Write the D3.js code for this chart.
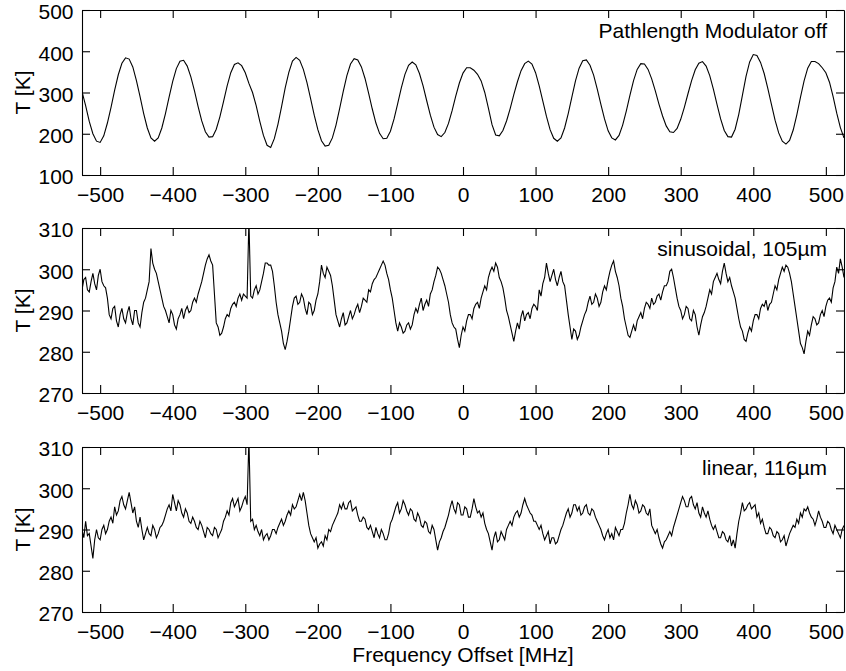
<!DOCTYPE html>
<html>
<head>
<meta charset="utf-8">
<script src="https://cdn.jsdelivr.net/npm/d3@7"></script>
<style>
  body { margin: 0; background: #fff; }
  text { font-family: "Liberation Sans", Arial, Helvetica, sans-serif; }
</style>
</head>
<body>
<div id="chart"></div>
<script>
// all spectra start at -525 MHz
const freqStart = -525;
const xTicks = [-500, -400, -300, -200, -100, 0, 100, 200, 300, 400, 500];

// modulator off, sampled every 5 MHz
const modOff = [
  302, 268, 230, 200, 182, 179, 195, 226, 264, 306,
  343, 371, 384, 381, 362, 329, 290, 249, 214, 190,
  182, 190, 214, 249, 289, 327, 358, 376, 378, 364,
  338, 304, 266, 231, 205, 192, 193, 211, 241, 278,
  316, 348, 368, 372, 365, 348, 322, 300, 268, 230,
  196, 172, 167, 188, 223, 266, 311, 349, 376, 385,
  378, 356, 324, 285, 245, 210, 183, 170, 172, 190,
  221, 261, 303, 341, 369, 382, 379, 362, 334, 298,
  260, 226, 201, 188, 189, 206, 236, 273, 311, 344,
  366, 374, 367, 346, 316, 280, 245, 216, 198, 193,
  203, 225, 256, 291, 323, 347, 360, 360, 354, 344,
  328, 300, 262, 222, 197, 195, 208, 231, 261, 295,
  326, 353, 370, 376, 369, 348, 316, 279, 242, 210,
  189, 182, 190, 214, 249, 289, 328, 359, 377, 379,
  366, 342, 308, 271, 236, 207, 190, 185, 196, 221,
  255, 293, 329, 356, 370, 369, 356, 333, 304, 272,
  243, 219, 205, 203, 213, 235, 264, 297, 329, 355,
  371, 375, 364, 341, 308, 271, 236, 208, 193, 192,
  211, 247, 293, 339, 374, 392, 390, 373, 346, 310,
  271, 233, 202, 182, 175, 184, 209, 246, 288, 328,
  359, 375, 375, 370, 360, 348, 325, 290, 250, 215,
  190
];

// sinusoidal modulator, sampled every 2.5 MHz
const sinusoidal = [
  295, 297.5, 298, 295, 294.5, 297, 299, 296.5, 295, 298.5,
  300, 297, 296, 295.5, 293, 289, 288, 290.5, 291, 287.5,
  286, 289, 290.5, 288, 287, 289.5, 291, 288, 286.5, 290,
  290, 287, 286, 289.5, 292, 293, 295, 297, 305, 301.5,
  300, 299, 297, 295, 293, 291, 290, 288.5, 287, 290,
  289, 286.5, 285.5, 288, 289, 290.5, 288, 290, 291, 289.5,
  290, 292, 293, 292, 294, 295.5, 297, 299, 301, 302.5,
  303.5, 302, 301, 294, 287, 286, 284, 284.5, 286, 288,
  289, 288.5, 290.5, 291.5, 292, 291, 293, 294, 292.5, 294,
  293.5, 293, 312, 293.5, 293, 295, 296, 294, 295, 297,
  299, 301.5, 301.5, 301, 301, 299.5, 296, 292, 289, 287,
  285, 282, 280.5, 282.5, 285, 288, 291, 293, 293.5, 291.5,
  292, 294, 293, 290.5, 289, 292, 291.5, 289, 290, 292.5,
  294, 297, 301, 299, 298, 300.5, 299.5, 298.5, 296, 292.5,
  289, 287.5, 286, 288, 289.5, 286.5, 287, 288.5, 290, 288,
  289, 290.5, 291.5, 289.5, 291, 293, 292.5, 292, 295, 294.5,
  296.5, 297.5, 298, 299, 300, 301, 302, 301, 299, 297.5,
  295, 293, 290, 287, 285, 287, 286, 284.5, 285, 286.5,
  287, 285.5, 286.5, 289, 290.5, 289.5, 291.5, 293, 290, 291.5,
  292.5, 291, 294, 295, 297, 298.5, 300.5, 300, 299, 297.5,
  296, 294, 292, 289, 287, 286, 285.5, 283, 281, 284,
  286, 285, 287.5, 289, 289, 288, 290.5, 291.5, 292, 290.5,
  293, 294.5, 296, 295, 298, 299.5, 300.5, 299.5, 301.5, 300.5,
  298, 297, 295.5, 293, 290, 288.5, 286.5, 284.5, 282.5, 285,
  287, 285.5, 288.5, 290, 287.5, 289, 289.5, 288, 290.5, 291.5,
  291, 290, 295, 293.5, 296.5, 298, 301.5, 299, 297, 298.5,
  300, 297.5, 296, 298, 299.5, 297, 296, 292.5, 289, 286,
  283, 285.5, 285, 283, 284, 286, 287.5, 289, 290, 292,
  293.5, 291.5, 292, 294, 293, 291, 292, 294.5, 296, 295,
  297.5, 299.5, 301, 302, 299.5, 298, 296, 293, 291, 288,
  286, 284, 283.5, 285, 286.5, 285, 287.5, 288.5, 289.5, 288,
  290.5, 292, 291.5, 290.5, 293, 291.5, 292, 293.5, 294, 292.5,
  294.5, 296, 296, 297, 299.5, 300, 298, 295.5, 293, 291,
  290, 288, 289, 291, 290.5, 288, 287.5, 290, 289, 286,
  284, 286.5, 288.5, 289.5, 291, 293, 295, 294, 297, 298,
  299, 297.5, 296.5, 299.5, 301.5, 299, 297, 298, 296, 294.5,
  293, 290.5, 288, 286, 285, 283, 282.5, 284.5, 286, 285,
  287.5, 289, 289, 288, 290.5, 291.5, 291, 292.5, 290, 291.5,
  292, 294, 296, 295, 297.5, 299, 300.5, 299.5, 301, 300.5,
  299, 297, 294, 291, 288, 285, 282, 281, 279.5, 282.5,
  285, 284, 286.5, 288.5, 288, 286.5, 287, 289, 290, 288.5,
  291, 292.5, 293, 292, 295.5, 297, 300.5, 299, 302.5, 300.5,
  298
];

// linear modulator, sampled every 2.5 MHz
const linear = [
  290, 288, 292, 288.5, 289, 286, 283, 287.5, 290, 288,
  287.5, 290, 291, 289, 290, 292, 293, 291.5, 295.5, 293.5,
  294.5, 297, 298, 296, 295, 297, 299, 296.5, 294, 295.5,
  292, 290.5, 293, 290, 287.5, 289, 290.5, 289, 288.5, 291,
  290, 288, 289, 290.5, 291, 292, 293.5, 295, 296, 294.5,
  298.5, 296.5, 294.5, 297, 296, 294, 293, 295, 294, 292,
  291.5, 293, 292, 290.5, 290, 292, 291, 289.5, 288, 290.5,
  290, 289, 288.5, 290.5, 290, 288, 289, 290, 292, 293,
  294.5, 293.5, 296.5, 297.5, 295.5, 296.5, 297.5, 294.5, 295.5, 297,
  298, 296, 312, 292, 292.5, 290, 291, 289.5, 288.5, 290,
  287.5, 288.5, 289, 287.5, 288.5, 290, 290, 289, 290.5, 291.5,
  292.5, 291, 292, 293.5, 294.5, 293.5, 296, 295, 295.5, 297,
  298.5, 297, 299, 297, 294, 291, 289, 288, 287, 288,
  285.5, 286.5, 287, 286, 288.5, 287.5, 290, 289.5, 291, 292,
  293, 294, 296, 295, 296.5, 295, 295, 296.5, 297, 294.5,
  295, 295.5, 293.5, 292, 292, 293, 292.5, 290.5, 290, 291,
  289.5, 288, 290.5, 289, 288, 290, 289, 287.5, 287.5, 289,
  291.5, 292.5, 294, 295.5, 296.5, 294, 295, 297, 296, 294.5,
  293.5, 295, 294.5, 292.5, 292, 294, 293, 291, 290.5, 292,
  291.5, 289.5, 289, 291, 290, 287.5, 285, 287, 288, 289.5,
  290.5, 292, 293.5, 295.5, 297, 295, 294, 296.5, 296, 293.5,
  293.5, 295.5, 295, 293, 293, 295, 297.5, 295.5, 294, 294.5,
  293, 294, 291.5, 290, 289, 287, 285, 288, 289.5, 287,
  287.5, 289.5, 288.5, 287.5, 290, 291, 292, 291, 293, 294,
  294.5, 293, 294, 296, 297.5, 296, 295, 294, 293.5, 292,
  292, 291, 290, 291, 289, 287.5, 288.5, 289.5, 286.5, 288,
  288, 286.5, 287, 288.5, 290, 291, 292.5, 294, 295, 293,
  294, 296, 296, 294.5, 295.5, 293.5, 294, 295.5, 296, 294,
  293.5, 295, 294.5, 293, 292, 291, 290, 288.5, 287.5, 289,
  290, 288, 289, 287.5, 290.5, 289.5, 288.5, 290, 290, 291.5,
  294, 296, 298.5, 296, 295, 297, 296, 294, 294.5, 296,
  295.5, 294, 293.5, 295, 291, 290, 289, 290, 288, 286.5,
  285.5, 287, 287.5, 288.5, 289.5, 288.5, 290.5, 292, 293.5, 295,
  296.5, 298, 297, 295.5, 295.5, 297.5, 298, 296, 295, 296.5,
  294, 293, 295.5, 294, 293, 294.5, 292.5, 291, 290, 291,
  289.5, 288, 288, 289.5, 289, 287.5, 287, 288.5, 286, 287.5,
  285.5, 289, 292, 294, 296.5, 294.5, 295, 296, 296.5, 295,
  295.5, 296, 293, 294, 291.5, 292.5, 290.5, 289, 289, 290.5,
  290, 288.5, 288, 289.5, 289, 287, 287.5, 288.5, 286, 287.5,
  289, 290, 291, 290.5, 292.5, 291.5, 294, 293, 295, 294.5,
  295.5, 294, 293, 292.5, 291, 292.5, 294.5, 293, 292, 290.5,
  290.5, 292, 291.5, 290, 289, 291, 290, 289, 288, 290,
  291
];

const panels = [
  { label: "Pathlength Modulator off", values: modOff, step: 5, yDomain: [100, 500], yTicks: [100, 200, 300, 400, 500] },
  { label: "sinusoidal, 105\u00b5m", values: sinusoidal, step: 2.5, yDomain: [270, 310], yTicks: [270, 280, 290, 300, 310] },
  { label: "linear, 116\u00b5m", values: linear, step: 2.5, yDomain: [270, 310], yTicks: [270, 280, 290, 300, 310] }
];

const width = 846, height = 671;
const left = 82, right = 844;
const panelTops = [10, 228, 447];
const panelH = 165;
const tickLen = 8;
const fontSize = 21;

const svg = d3.select("#chart").append("svg")
  .attr("width", width)
  .attr("height", height)
  .style("font-size", fontSize + "px");

const x = d3.scaleLinear().domain([-525, 525]).range([left, right]);

panels.forEach((p, i) => {
  const top = panelTops[i];
  const y = d3.scaleLinear().domain(p.yDomain).range([top + panelH, top]);
  const data = p.values.map((v, j) => [freqStart + j * p.step, v]);

  const g = svg.append("g");

  g.append("clipPath").attr("id", "clip" + i)
    .append("rect")
    .attr("x", left).attr("y", top)
    .attr("width", right - left).attr("height", panelH);

  const line = d3.line().x(d => x(d[0])).y(d => y(d[1]));

  g.append("path")
    .datum(data)
    .attr("clip-path", `url(#clip${i})`)
    .attr("fill", "none")
    .attr("stroke", "#000")
    .attr("stroke-width", 1.1)
    .attr("d", line);

  // bottom axis with labels
  const bottom = g.append("g")
    .attr("transform", `translate(0,${top + panelH})`)
    .call(d3.axisBottom(x).tickValues(xTicks).tickSizeInner(-tickLen).tickSizeOuter(0).tickPadding(12.5));
  // top mirror
  const topAx = g.append("g")
    .attr("transform", `translate(0,${top})`)
    .call(d3.axisTop(x).tickValues(xTicks).tickSizeInner(-tickLen).tickSizeOuter(0).tickFormat(""));
  // left axis
  const leftAx = g.append("g")
    .attr("transform", `translate(${left},0)`)
    .call(d3.axisLeft(y).tickValues(p.yTicks).tickSizeInner(-tickLen).tickSizeOuter(0).tickPadding(8.5).tickFormat(d3.format("d")));
  leftAx.selectAll("text").attr("dy", "0.42em");
  // right mirror
  const rightAx = g.append("g")
    .attr("transform", `translate(${right},0)`)
    .call(d3.axisRight(y).tickValues(p.yTicks).tickSizeInner(-tickLen).tickSizeOuter(0).tickFormat(""));

  [bottom, topAx, leftAx, rightAx].forEach(a => {
    a.attr("font-size", null).attr("font-family", null);
    a.selectAll("path, line").attr("stroke", "#000").attr("stroke-width", 1.1);
    a.selectAll("text").attr("fill", "#000");
  });

  g.append("text")
    .attr("transform", `translate(30,${top + panelH / 2}) rotate(-90)`)
    .attr("text-anchor", "middle")
    .text("T [K]");

  g.append("text")
    .attr("x", 827)
    .attr("y", top + 28)
    .attr("text-anchor", "end")
    .text(p.label);
});

svg.append("text")
  .attr("x", (left + right) / 2)
  .attr("y", 662)
  .attr("text-anchor", "middle")
  .text("Frequency Offset [MHz]");
</script>
</body>
</html>
